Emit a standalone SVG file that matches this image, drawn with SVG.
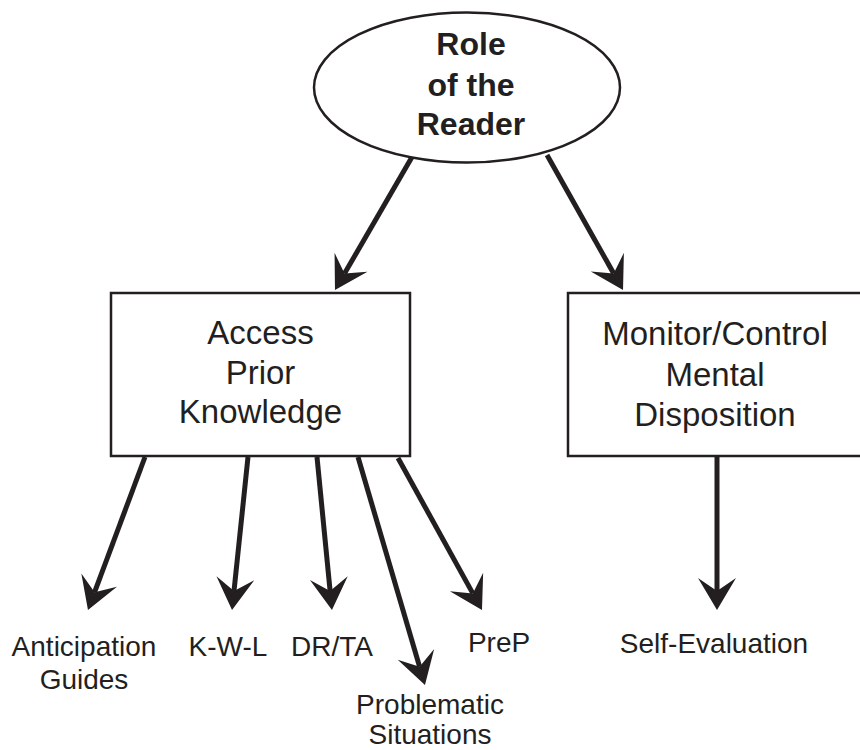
<svg xmlns="http://www.w3.org/2000/svg" width="860" height="750" viewBox="0 0 860 750">
  <style>
    .lbl { font-family: "Liberation Sans", Arial, Helvetica, sans-serif; fill: #231f20; text-anchor: middle; }
    .big { font-size: 33px; }
    .bold { font-size: 32px; font-weight: bold; }
    .small { font-size: 28px; }
    .shape { fill: #ffffff; stroke: #231f20; stroke-width: 2.5; }
    .conn { stroke: #231f20; stroke-width: 5; fill: none; marker-end: url(#arrow); }
  </style>
  <defs>
    <marker id="arrow" markerUnits="userSpaceOnUse" markerWidth="34" markerHeight="40" refX="13" refY="19" orient="auto" overflow="visible">
      <path d="M32,19 L0,0 L13,19 L0,38 Z" fill="#231f20"/>
    </marker>
  </defs>
  <rect width="860" height="750" fill="#ffffff"/>
  <g id="connectors">
    <line class="conn" x1="412" y1="157" x2="344.5" y2="273.6"/>
    <line class="conn" x1="547" y1="155" x2="613.7" y2="273.5"/>
    <line class="conn" x1="145" y1="457" x2="94.6" y2="592.2"/>
    <line class="conn" x1="248" y1="457" x2="234" y2="591.1"/>
    <line class="conn" x1="317" y1="457" x2="330.1" y2="591.1"/>
    <line class="conn" x1="358" y1="457" x2="419.6" y2="666.8"/>
    <line class="conn" x1="398" y1="458" x2="472.8" y2="593.4"/>
    <line class="conn" x1="717" y1="456" x2="717" y2="591"/>
  </g>
  <g id="role-of-the-reader">
    <ellipse class="shape" cx="467" cy="87.5" rx="153" ry="75"/>
    <text class="lbl bold" x="471" y="55">Role</text>
    <text class="lbl bold" x="471" y="96">of the</text>
    <text class="lbl bold" x="471" y="135">Reader</text>
  </g>
  <g id="access-prior-knowledge">
    <rect class="shape" x="111" y="293" width="299" height="163"/>
    <text class="lbl big" x="260.5" y="344">Access</text>
    <text class="lbl big" x="260.5" y="384">Prior</text>
    <text class="lbl big" x="260.5" y="423">Knowledge</text>
  </g>
  <g id="monitor-control">
    <rect class="shape" x="568" y="293" width="296" height="163"/>
    <text class="lbl big" x="715" y="345">Monitor/Control</text>
    <text class="lbl big" x="715" y="386">Mental</text>
    <text class="lbl big" x="715" y="426">Disposition</text>
  </g>
  <g id="anticipation-guides">
    <text class="lbl small" x="84" y="656">Anticipation</text>
    <text class="lbl small" x="84" y="689">Guides</text>
  </g>
  <g id="kwl">
    <text class="lbl small" x="228" y="656">K-W-L</text>
  </g>
  <g id="drta">
    <text class="lbl small" x="332" y="656">DR/TA</text>
  </g>
  <g id="problematic-situations">
    <text class="lbl small" x="430" y="714">Problematic</text>
    <text class="lbl small" x="430" y="744">Situations</text>
  </g>
  <g id="prep">
    <text class="lbl small" x="499" y="652">PreP</text>
  </g>
  <g id="self-evaluation">
    <text class="lbl small" x="714" y="653">Self-Evaluation</text>
  </g>
</svg>
